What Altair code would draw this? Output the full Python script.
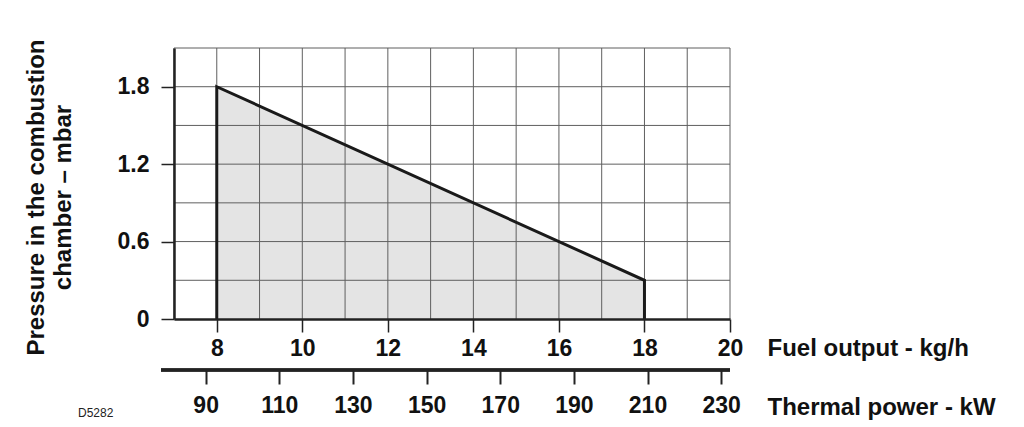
import altair as alt
import pandas as pd

# ---- data ----
fuel_kgh = [8, 18]            # fuel output, kg/h (ends of the working field)
pressure_mbar = [1.8, 0.3]    # combustion-chamber pressure, mbar
x_grid = list(range(7, 21))                 # vertical grid lines (kg/h)
y_grid = [0.3, 0.6, 0.9, 1.2, 1.5, 1.8, 2.1]  # horizontal grid lines (mbar)
x_ticks = [8, 10, 12, 14, 16, 18, 20]
y_ticks = [0, 0.6, 1.2, 1.8]
kw_ticks = [90, 110, 130, 150, 170, 190, 210, 230]

X_DOMAIN = [7, 20]
Y_DOMAIN = [0, 2.1]
KW_DOMAIN = [81.4, 232.4]

W, H = 556, 271
FONT = "Liberation Sans"

area_df = pd.DataFrame({"fuel": fuel_kgh, "p": pressure_mbar})
outline_df = pd.DataFrame({
    "fuel": [fuel_kgh[0], fuel_kgh[0], fuel_kgh[1], fuel_kgh[1]],
    "p": [0, pressure_mbar[0], pressure_mbar[1], 0],
    "order": [0, 1, 2, 3],
})
xgrid_df = pd.DataFrame({"fuel": x_grid})
ygrid_df = pd.DataFrame({"p": y_grid})
kw_df = pd.DataFrame({"kw": kw_ticks})

xscale = alt.Scale(domain=X_DOMAIN, nice=False, zero=False)
yscale = alt.Scale(domain=Y_DOMAIN, nice=False)

x_axis = alt.Axis(
    values=x_ticks, grid=False, tickSize=13, tickColor="#222", tickWidth=1.5,
    domainColor="#222", domainWidth=2.5, labelFont=FONT, labelFontSize=23,
    labelFontWeight="bold", labelColor="#111", labelPadding=5, labelFlush=False,
    labelOverlap=False, title="Fuel output - kg/h", titleFont=FONT,
    titleFontSize=24, titleFontWeight="bold", titleColor="#111",
    titleX=593, titleY=36, titleAlign="left", titleBaseline="alphabetic",
    titleAnchor=None, zindex=1,
)
y_axis = alt.Axis(
    values=y_ticks, grid=False, tickSize=13, tickColor="#222", tickWidth=1.5,
    domainColor="#222", domainWidth=2.5, labelFont=FONT, labelFontSize=23,
    labelFontWeight="bold", labelColor="#111", labelPadding=12, labelFlush=False,
    labelOverlap=False, format="~g",
    title=["Pressure in the combustion", "chamber \u2013 mbar"], titleFont=FONT,
    titleFontSize=24, titleFontWeight="bold", titleColor="#111",
    titleAngle=270, titleX=-131, titleY=149, titleAlign="center",
    titleBaseline="alphabetic", titleLineHeight=27, zindex=1,
)

area = alt.Chart(area_df).mark_area(color="#e4e4e4", opacity=1).encode(
    x=alt.X("fuel:Q", scale=xscale, axis=x_axis),
    y=alt.Y("p:Q", scale=yscale, axis=y_axis),
)

vgrid = alt.Chart(xgrid_df).mark_rule(color="#5f5f5f", strokeWidth=1).encode(
    x=alt.X("fuel:Q", scale=xscale), y=alt.value(0), y2=alt.value(H)
)
hgrid = alt.Chart(ygrid_df).mark_rule(color="#5f5f5f", strokeWidth=1).encode(
    y=alt.Y("p:Q", scale=yscale), x=alt.value(0), x2=alt.value(W)
)

outline = alt.Chart(outline_df).mark_line(
    color="#1a1a1a", strokeWidth=3, strokeJoin="miter"
).encode(
    x=alt.X("fuel:Q", scale=xscale),
    y=alt.Y("p:Q", scale=yscale),
    order="order:Q",
)

note = alt.Chart(pd.DataFrame({"t": ["D5282"]})).mark_text(
    font=FONT, fontSize=12, color="#222", align="left", baseline="alphabetic"
).encode(text="t:N", x=alt.value(78 - 174), y=alt.value(417 - 48))

main = alt.layer(area, vgrid, hgrid, outline, note)

kw_axis = alt.Axis(
    orient="bottom", offset=51, values=kw_ticks, grid=False, domain=False,
    tickSize=14, tickColor="#222", tickWidth=2, labelFont=FONT, labelFontSize=23,
    labelFontWeight="bold", labelColor="#111", labelPadding=10, labelFlush=False,
    labelOverlap=False, title="Thermal power - kW", titleFont=FONT,
    titleFontSize=24, titleFontWeight="bold", titleColor="#111",
    titleX=593, titleY=44, titleAlign="left", titleBaseline="alphabetic",
    titleAnchor=None,
)
kw_layer = alt.Chart(kw_df).mark_point(opacity=0).encode(
    x=alt.X("kw:Q", scale=alt.Scale(domain=KW_DOMAIN, nice=False, zero=False), axis=kw_axis),
    y=alt.value(H),
)
kw_line = alt.Chart(kw_df).mark_rule(color="#222", strokeWidth=2.5).encode(
    x=alt.value(-13), x2=alt.value(W), y=alt.value(322)
)

chart = alt.layer(main, kw_layer + kw_line).resolve_scale(x="independent").properties(
    width=W, height=H,
    autosize=alt.AutoSizeParams(type="none"),
    padding={"left": 174, "top": 48, "right": 1024 - 174 - W, "bottom": 427 - 48 - H},
    background="white",
).configure_view(stroke=None)

chart.save("out.html", embed_options={"renderer": "svg", "actions": False})
